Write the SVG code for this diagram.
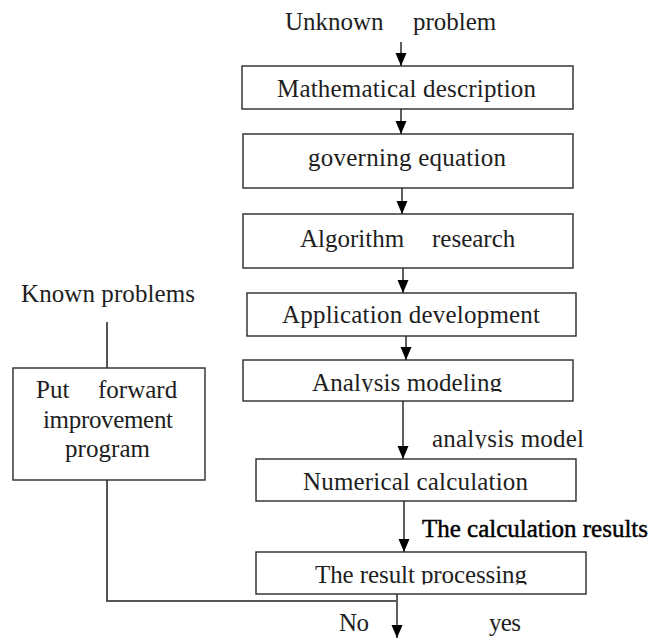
<svg xmlns="http://www.w3.org/2000/svg" width="650" height="639" viewBox="0 0 650 639">
  <style>
    .box { fill: #ffffff; stroke: #2a2a2a; stroke-width: 1.4; }
    .lbl { font-family: 'Liberation Serif', 'Times New Roman', 'DejaVu Serif', serif; font-size: 25px; fill: #1e1e1e; }
    .bold { fill: #000; stroke: #000; stroke-width: 0.45; }
    .edge { fill: none; stroke: #1a1a1a; stroke-width: 1.4; }
    .edge2 { fill: none; stroke: #555; stroke-width: 2; }
  </style>
  <defs>
    <marker id="arr" markerUnits="userSpaceOnUse" markerWidth="13" markerHeight="14" viewBox="0 0 13 11" refX="13" refY="5.5" orient="auto">
      <path d="M0,0 L13,5.5 L0,11 Z" fill="#000"/>
    </marker>
    <clipPath id="c5"><rect x="0" y="0" width="650" height="392"/></clipPath>
    <clipPath id="c6"><rect x="0" y="0" width="650" height="448.5"/></clipPath>
    <clipPath id="c7"><rect x="0" y="0" width="650" height="584.5"/></clipPath>
  </defs>
  <rect width="650" height="639" fill="#ffffff"/>

  <g id="connectors">
    <line class="edge" x1="401" y1="42" x2="401" y2="66" marker-end="url(#arr)"/>
    <line class="edge" x1="401" y1="109" x2="401" y2="134" marker-end="url(#arr)"/>
    <line class="edge" x1="402" y1="188" x2="402" y2="214" marker-end="url(#arr)"/>
    <line class="edge" x1="403" y1="268" x2="403" y2="293" marker-end="url(#arr)"/>
    <line class="edge" x1="406" y1="336" x2="406" y2="360" marker-end="url(#arr)"/>
    <line class="edge" x1="403" y1="401" x2="403" y2="459" marker-end="url(#arr)"/>
    <line class="edge" x1="404" y1="501" x2="404" y2="552" marker-end="url(#arr)"/>
    <line class="edge" x1="397" y1="594" x2="397" y2="638" marker-end="url(#arr)"/>
    <line class="edge2" x1="107" y1="322" x2="107" y2="368"/>
    <polyline class="edge2" points="107,480 107,601 397,601"/>
    <text class="lbl" x="432" y="447" textLength="152" clip-path="url(#c6)">analysis model</text>
    <text class="lbl bold" x="422" y="537" textLength="226">The calculation results</text>
    <text class="lbl" x="339" y="631" textLength="30">No</text>
    <text class="lbl" x="489" y="631" textLength="32">yes</text>
  </g>

  <g id="unknown-problem">
    <text class="lbl" x="285" y="30">Unknown <tspan x="413">problem</tspan></text>
  </g>

  <g id="mathematical-description">
    <rect class="box" x="242" y="66" width="331" height="43"/>
    <text class="lbl" x="277" y="97" textLength="259">Mathematical description</text>
  </g>

  <g id="governing-equation">
    <rect class="box" x="243" y="134" width="330" height="54"/>
    <text class="lbl" x="308" y="166" textLength="198">governing equation</text>
  </g>

  <g id="algorithm-research">
    <rect class="box" x="243" y="214" width="330" height="54"/>
    <text class="lbl" x="300" y="247">Algorithm <tspan x="432">research</tspan></text>
  </g>

  <g id="application-development">
    <rect class="box" x="247" y="293" width="329" height="43"/>
    <text class="lbl" x="282" y="323" textLength="258">Application development</text>
  </g>

  <g id="analysis-modeling">
    <rect class="box" x="243" y="360" width="330" height="41"/>
    <text class="lbl" x="312" y="391" textLength="190" clip-path="url(#c5)">Analysis modeling</text>
  </g>

  <g id="numerical-calculation">
    <rect class="box" x="256" y="459" width="320" height="42"/>
    <text class="lbl" x="303" y="490" textLength="225">Numerical calculation</text>
  </g>

  <g id="result-processing">
    <rect class="box" x="256" y="552" width="330" height="42"/>
    <text class="lbl" x="315" y="583" textLength="212" clip-path="url(#c7)">The result processing</text>
  </g>

  <g id="known-problems">
    <text class="lbl" x="21" y="302" textLength="174">Known problems</text>
  </g>

  <g id="improvement-program">
    <rect class="box" x="13" y="368" width="192" height="112"/>
    <text class="lbl" x="36" y="398">Put <tspan x="98">forward</tspan></text>
    <text class="lbl" x="43" y="428" textLength="130">improvement</text>
    <text class="lbl" x="65" y="457" textLength="85">program</text>
  </g>
</svg>
